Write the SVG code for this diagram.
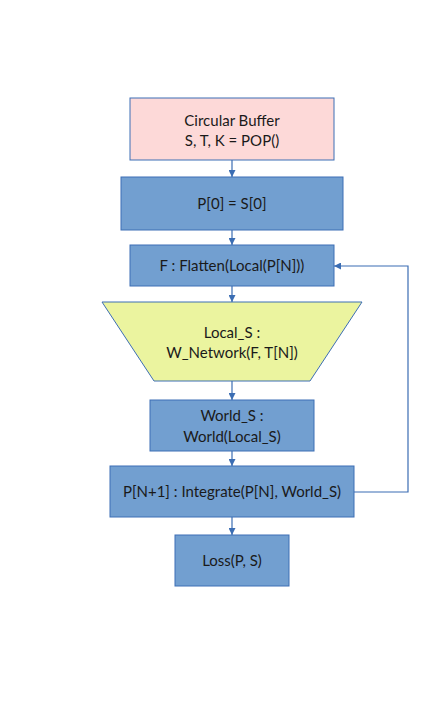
<svg xmlns="http://www.w3.org/2000/svg" width="444" height="719" viewBox="0 0 444 719">
<defs>
<marker id="ah" viewBox="0 0 10 10" refX="10" refY="5" markerWidth="7" markerHeight="7" markerUnits="userSpaceOnUse" orient="auto"><path d="M0,0 L10,5 L0,10 z" fill="#3b6db3"/></marker>
</defs>
<style>
.b{fill:#729fd0;stroke:#3d6eb5;stroke-width:1}
.p{fill:#fdd9d8;stroke:#3d6eb5;stroke-width:1}
.y{fill:#ebf49f;stroke:#3d6eb5;stroke-width:1}
text{font-family:"Lato","Noto Sans",sans-serif;font-size:15px;fill:#1a1a1a;text-anchor:middle}
.c{fill:none;stroke:#3b6db3;stroke-width:1.2;marker-end:url(#ah)}
</style>
<rect width="444" height="719" fill="#fff"/>
<g id="buffer"><rect class="p" x="130" y="98" width="204" height="62"/><text x="232" y="126">Circular Buffer</text><text x="232" y="146">S, T, K = POP()</text></g>
<g id="p0"><rect class="b" x="121" y="177" width="222" height="53"/><text x="232" y="209">P[0] = S[0]</text></g>
<g id="flatten"><rect class="b" x="130" y="245" width="204" height="41"/><text x="232" y="271">F : Flatten(Local(P[N]))</text></g>
<g id="network"><path class="y" d="M102,302 L362,302 L310,381 L154,381 Z"/><text x="232" y="338">Local_S :</text><text x="232" y="358">W_Network(F, T[N])</text></g>
<g id="world"><rect class="b" x="150" y="400" width="164" height="51"/><text x="232" y="421">World_S :</text><text x="232" y="442">World(Local_S)</text></g>
<g id="integrate"><rect class="b" x="110" y="466" width="244" height="51"/><text x="232" y="497">P[N+1] : Integrate(P[N], World_S)</text></g>
<g id="loss"><rect class="b" x="175" y="535" width="114" height="51"/><text x="232" y="566">Loss(P, S)</text></g>
<g id="connectors">
<path class="c" d="M232,160 L232,177"/>
<path class="c" d="M232,230 L232,245"/>
<path class="c" d="M232,286 L232,302"/>
<path class="c" d="M232,381 L232,400"/>
<path class="c" d="M232,451 L232,466"/>
<path class="c" d="M232,517 L232,535"/>
<path class="c" d="M354,492 L408,492 L408,266 L334,266"/>
</g>
</svg>
